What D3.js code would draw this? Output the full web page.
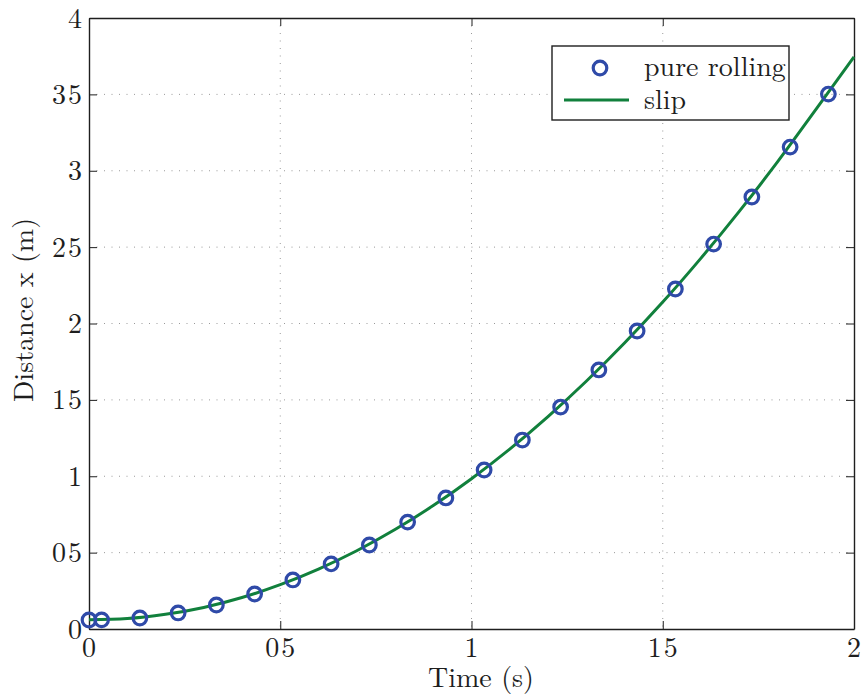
<!DOCTYPE html>
<html>
<head>
<meta charset="utf-8">
<script src="https://cdn.jsdelivr.net/npm/d3@7"></script>
<style>
  html, body { margin: 0; padding: 0; background: #fff; }
</style>
</head>
<body>
<svg id="chart" width="863" height="698"></svg>
<script>
// Sampled positions of the pure-rolling model (markers)
const rollTime = [0, 0.033, 0.133, 0.233, 0.333, 0.433, 0.533, 0.633, 0.733, 0.833, 0.933,
                  1.033, 1.133, 1.233, 1.333, 1.433, 1.533, 1.633, 1.733, 1.833, 1.933];
const rollDist = [0.059, 0.060, 0.072, 0.105, 0.157, 0.229, 0.321, 0.426, 0.550, 0.700, 0.858,
                  1.041, 1.237, 1.453, 1.696, 1.951, 2.226, 2.520, 2.828, 3.155, 3.502];

// Slip model trajectory (line)
const slipTime = [0, 0.1, 0.2, 0.3, 0.4, 0.5, 0.6, 0.7, 0.8, 0.9, 1.0,
                  1.1, 1.2, 1.3, 1.4, 1.5, 1.6, 1.7, 1.8, 1.9, 2.0];
const slipDist = [0.060, 0.068, 0.096, 0.141, 0.206, 0.290, 0.392, 0.512, 0.651, 0.808, 0.984,
                  1.178, 1.391, 1.622, 1.872, 2.140, 2.428, 2.734, 3.058, 3.400, 3.745];

const xTicks = [0, 0.5, 1, 1.5, 2];
const xTickLabels = ["0", "05", "1", "15", "2"];
const yTicks = [0, 0.5, 1, 1.5, 2, 2.5, 3, 3.5, 4];
const yTickLabels = ["0", "05", "1", "15", "2", "25", "3", "35", "4"];

const seriesNames = ["pure rolling", "slip"];
const xLabel = "Time (s)";
const yLabel = "Distance x (m)";

const FONT = "'Latin Modern Roman', 'CMU Serif', 'Liberation Serif', serif";
const blue = "#2f4aa8";
const green = "#11803c";
const ink = "#1e1e1e";

const svg = d3.select("#chart");
const m = { left: 89, right: 854, top: 18, bottom: 629 };

const x = d3.scaleLinear().domain([0, 2]).range([m.left, m.right]);
const y = d3.scaleLinear().domain([0, 4]).range([m.bottom, m.top]);

// Dotted grid
const grid = svg.append("g");
grid.selectAll("line.gx").data(xTicks.slice(1, -1)).join("line")
  .attr("x1", d => x(d)).attr("x2", d => x(d))
  .attr("y1", m.top).attr("y2", m.bottom)
  .attr("stroke", "#9a9a9a").attr("stroke-width", 1).attr("stroke-dasharray", "1,6.5");
grid.selectAll("line.gy").data(yTicks.slice(1, -1)).join("line")
  .attr("x1", m.left).attr("x2", m.right)
  .attr("y1", d => y(d)).attr("y2", d => y(d))
  .attr("stroke", "#9a9a9a").attr("stroke-width", 1).attr("stroke-dasharray", "1,6.5");

// Axes with inward ticks on all four sides
const tickLen = 8;
const axB = svg.append("g").attr("transform", `translate(0,${m.bottom})`)
  .call(d3.axisBottom(x).tickValues(xTicks).tickFormat("").tickSizeInner(-tickLen).tickSizeOuter(0));
const axT = svg.append("g").attr("transform", `translate(0,${m.top})`)
  .call(d3.axisTop(x).tickValues(xTicks).tickFormat("").tickSizeInner(-tickLen).tickSizeOuter(0));
const axL = svg.append("g").attr("transform", `translate(${m.left},0)`)
  .call(d3.axisLeft(y).tickValues(yTicks).tickFormat("").tickSizeInner(-tickLen).tickSizeOuter(0));
const axR = svg.append("g").attr("transform", `translate(${m.right},0)`)
  .call(d3.axisRight(y).tickValues(yTicks).tickFormat("").tickSizeInner(-tickLen).tickSizeOuter(0));

[axB, axT, axL, axR].forEach(a => {
  a.select(".domain").attr("stroke", ink).attr("stroke-width", 1.4);
  a.selectAll(".tick line").attr("stroke", ink).attr("stroke-width", 1);
  a.selectAll(".tick text").remove();
});

// Tick labels: two-digit labels keep a small gap where the decimal point sits
function tickLabel(sel, str) {
  sel.style("font-family", FONT).attr("font-size", 28).attr("fill", ink);
  if (str.length === 1) {
    sel.text(str);
  } else {
    sel.append("tspan").text(str[0]);
    sel.append("tspan").attr("dx", 2).text(str[1]);
  }
}

xTicks.forEach((v, i) => {
  svg.append("text").attr("x", x(v)).attr("y", 657).attr("text-anchor", "middle")
    .call(tickLabel, xTickLabels[i]);
});
yTicks.forEach((v, i) => {
  svg.append("text").attr("x", 82).attr("y", y(v) + 9.5).attr("text-anchor", "end")
    .call(tickLabel, yTickLabels[i]);
});

// Slip line
const line = d3.line().x(d => x(d[0])).y(d => y(d[1])).curve(d3.curveMonotoneX);
svg.append("path")
  .datum(slipTime.map((t, i) => [t, slipDist[i]]))
  .attr("d", line)
  .attr("fill", "none").attr("stroke", green).attr("stroke-width", 3);

// Pure rolling markers
svg.append("g").selectAll("circle")
  .data(rollTime.map((t, i) => [t, rollDist[i]]))
  .join("circle")
  .attr("cx", d => x(d[0])).attr("cy", d => y(d[1])).attr("r", 6.8)
  .attr("fill", "none").attr("stroke", blue).attr("stroke-width", 3.2);

// Axis labels
svg.append("text").attr("x", 481).attr("y", 687)
  .attr("text-anchor", "middle").attr("font-size", 28).attr("fill", ink)
  .style("font-family", FONT).text(xLabel);
svg.append("text").attr("transform", "translate(33,310) rotate(-90)")
  .attr("text-anchor", "middle").attr("font-size", 28).attr("fill", ink)
  .style("font-family", FONT).text(yLabel);

// Legend
const lg = svg.append("g");
lg.append("rect").attr("x", 552).attr("y", 46).attr("width", 237).attr("height", 74)
  .attr("fill", "#fff").attr("stroke", ink).attr("stroke-width", 1.4);
lg.append("circle").attr("cx", 600).attr("cy", 68).attr("r", 6.8)
  .attr("fill", "none").attr("stroke", blue).attr("stroke-width", 3.2);
lg.append("line").attr("x1", 564).attr("x2", 629).attr("y1", 100).attr("y2", 100)
  .attr("stroke", green).attr("stroke-width", 3);
lg.append("text").attr("x", 644).attr("y", 76).attr("font-size", 28).attr("fill", ink)
  .style("font-family", FONT).text(seriesNames[0]);
lg.append("text").attr("x", 644).attr("y", 109).attr("font-size", 28).attr("fill", ink)
  .style("font-family", FONT).text(seriesNames[1]);
</script>
</body>
</html>
